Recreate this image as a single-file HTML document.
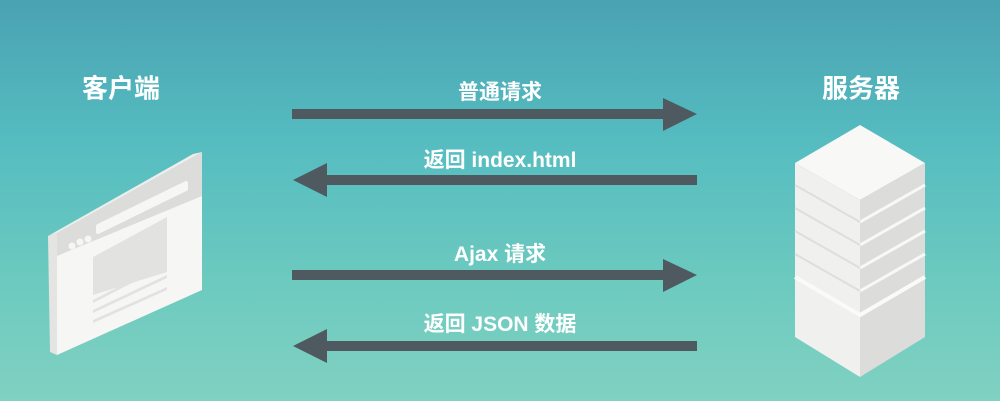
<!DOCTYPE html>
<html><head><meta charset="utf-8"><style>
html,body{margin:0;padding:0}
body{width:1000px;height:401px;overflow:hidden;background:linear-gradient(180deg,#4aa2b2 0%,#55bcc0 35%,#6ccabf 70%,#80d1c1 100%);position:relative;font-family:"Liberation Sans","Noto Sans CJK SC",sans-serif;}
.t{position:absolute;color:#fff;font-weight:bold;white-space:nowrap;transform:translate(-50%,-50%)}
</style></head><body>
<div class="t" style="left:121px;top:87px;font-size:26px">客户端</div>
<div class="t" style="left:861px;top:87px;font-size:26px">服务器</div>
<div class="t" style="left:500px;top:91px;font-size:21px">普通请求</div>
<div class="t" style="left:500px;top:159px;font-size:21px">返回 index.html</div>
<div class="t" style="left:500px;top:253px;font-size:21px">Ajax 请求</div>
<div class="t" style="left:500px;top:323px;font-size:21px">返回 JSON 数据</div>
<svg width="1000" height="401" style="position:absolute;left:0;top:0">
<g fill="#4f5a60">
<rect x="292" y="109" width="374" height="10"/><polygon points="663,98 697,114 663,131"/>
<rect x="326" y="175" width="371" height="10"/><polygon points="327,163 293,180 327,197"/>
<rect x="292" y="270" width="374" height="10"/><polygon points="663,259 697,275 663,292"/>
<rect x="326" y="341" width="371" height="10"/><polygon points="327,329 293,346 327,363"/>
</g>
<!-- browser -->
<polygon points="48,236 57,233 57,355 50,352" fill="#e4e4e2"/>
<polygon points="48,236 193,154 202,152 57,233" fill="#eeeeec"/>
<polygon points="57,233 202,152 202,290 57,355" fill="#f6f6f5"/>
<polygon points="57,233 202,152 202,196 57,256" fill="#dcdcda"/>
<polygon points="98,226 186,183 186,189 98,232" fill="#f6f6f5" stroke="#f6f6f5" stroke-width="4" stroke-linejoin="round"/>
<circle cx="72" cy="246" r="3.5" fill="#f6f6f5"/><circle cx="80" cy="242" r="3.5" fill="#f6f6f5"/><circle cx="88" cy="239" r="3.5" fill="#f6f6f5"/>
<polygon points="93,257 167,217 167,272 93,295" fill="#e2e2e0"/>
<polygon points="93,300 167,262 167,265 93,303" fill="#e2e2e0"/>
<polygon points="93,310 167,275 167,278 93,313" fill="#e2e2e0"/>
<polygon points="93,320 167,287 167,290 93,323" fill="#e2e2e0"/>
<!-- server -->
<polygon points="795,163 860,125 925,163 860,200" fill="#f8f8f7"/>
<polygon points="795,163 860,200 860,377 795,337" fill="#f0f0ee"/>
<polygon points="860,200 925,163 925,337 860,377" fill="#dcdcda"/>
<g stroke="#f8f8f7" stroke-width="3">
<line x1="860" y1="222" x2="925" y2="185"/><line x1="860" y1="245" x2="925" y2="208"/><line x1="860" y1="268" x2="925" y2="231"/><line x1="860" y1="291" x2="925" y2="254"/>
</g>
<g stroke="#dededc" stroke-width="2">
<line x1="795" y1="185" x2="860" y2="222"/><line x1="795" y1="208" x2="860" y2="245"/><line x1="795" y1="231" x2="860" y2="268"/><line x1="795" y1="254" x2="860" y2="291"/>
</g>
<polyline points="795,277 860,315 925,277" fill="none" stroke="#fafaf9" stroke-width="4"/>
</svg>
</body></html>
